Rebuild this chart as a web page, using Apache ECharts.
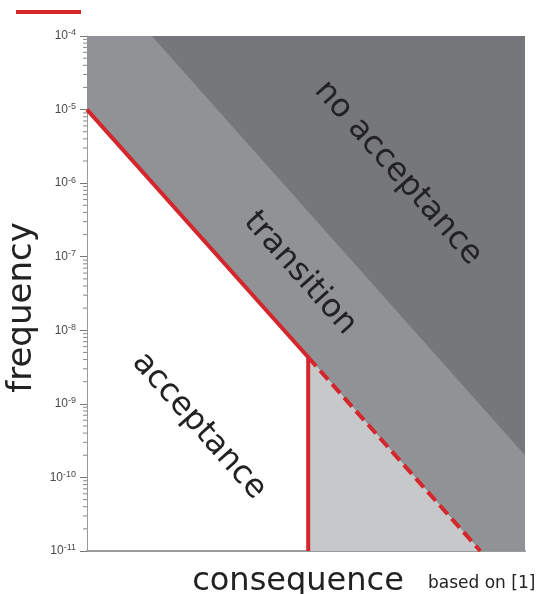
<!DOCTYPE html>
<html><head><meta charset="utf-8">
<script src="https://cdn.jsdelivr.net/npm/echarts@6/dist/echarts.min.js"></script>
<style>html,body{margin:0;padding:0;background:#fff}#c{width:537px;height:594px}</style>
</head><body><div id="c"></div>
<script>
// y-axis ticks (frequency, log scale)
const yTickValues = [1e-11, 1e-10, 1e-9, 1e-8, 1e-7, 1e-6, 1e-5, 1e-4];
const yTickExponents = ['-11', '-10', '-9', '-8', '-7', '-6', '-5', '-4'];
const yMinorMultipliers = [2, 3, 4, 5, 6, 7, 8, 9];
// limit line (solid red): acceptance boundary
const limitX = [0, 50.5, 50.5];
const limitY = [1e-5, 4.3e-9, 1e-11];
// extension of the limit line (dashed red)
const extX = [50.5, 89.8];
const extY = [4.3e-9, 1e-11];
// regions
const transX = [0, 0, 100, 100, 89.8, 50.5];
const transY = [1e-5, 1e-4, 1e-4, 1e-11, 1e-11, 4.3e-9];
const noAccX = [14.8, 100, 100];
const noAccY = [1e-4, 1e-4, 2e-10];
const lightX = [50.5, 89.8, 50.5];
const lightY = [4.3e-9, 1e-11, 1e-11];

// minor log ticks k * 10^n between the major ticks
const minorTicks = [];
yTickValues.slice(0, -1).forEach(function (t) {
  yMinorMultipliers.forEach(function (k) { minorTicks.push([0, k * t]); });
});

function polySeries(name, xs, ys, color) {
  return {
    name: name, type: 'custom', coordinateSystem: 'cartesian2d', silent: true, z: 1,
    data: [[xs[0], ys[0]]],
    renderItem: function (params, api) {
      return {
        type: 'polygon',
        shape: { points: xs.map(function (x, i) { return api.coord([x, ys[i]]); }) },
        style: { fill: color }
      };
    }
  };
}
function pairs(xs, ys) { return xs.map(function (x, i) { return [x, ys[i]]; }); }

const chart = echarts.init(document.getElementById('c'), null, { renderer: 'canvas' });
const rot = -Math.atan(1.123);
const txt = '#222';
const regionFont = '32px "DejaVu Sans"';
chart.setOption({
  animation: false,
  grid: { left: 87, right: 12, top: 36, bottom: 43, containLabel: false, outerBoundsMode: 'none' },
  legend: {
    left: 16, top: 10, padding: 0, itemWidth: 65, itemHeight: 4, selectedMode: false,
    data: [{ name: 'limit', icon: 'rect' }],
    formatter: function () { return ''; }
  },
  xAxis: {
    type: 'value', min: 0, max: 100,
    name: 'consequence', nameLocation: 'middle', nameGap: 15,
    nameTextStyle: { fontFamily: 'DejaVu Sans', fontSize: 32, color: txt, padding: [0, 16, 0, 0] },
    axisLine: { show: true, lineStyle: { color: '#9a9a9a', width: 2 } },
    axisTick: { show: false }, axisLabel: { show: false }, splitLine: { show: false }
  },
  yAxis: {
    type: 'log', logBase: 10, min: 1e-11, max: 1e-4, splitNumber: 7,
    name: 'frequency', nameLocation: 'middle', nameGap: 43,
    nameTextStyle: { fontFamily: 'DejaVu Sans', fontSize: 34, color: txt, padding: [0, 28, 0, 0] },
    axisLine: { show: true, lineStyle: { color: '#999', width: 1 } },
    axisTick: { show: true, length: 7, lineStyle: { color: '#777' } },
    minorTick: { show: false },
    splitLine: { show: false },
    axisLabel: {
      margin: 11,
      formatter: function (v) {
        const lv = Math.log10(v);
        const i = yTickValues.findIndex(function (t) { return Math.abs(Math.log10(t) - lv) < 1e-6; });
        return '{b|10}{e|' + (i >= 0 ? yTickExponents[i] : '') + '}';
      },
      rich: {
        b: { fontFamily: 'Liberation Sans', fontSize: 12, color: '#4a4a4a', lineHeight: 15 },
        e: { fontFamily: 'Liberation Sans', fontSize: 9, color: '#4a4a4a', verticalAlign: 'top', lineHeight: 8 }
      }
    }
  },
  series: [
    polySeries('transition', transX, transY, '#919296'),
    polySeries('no acceptance', noAccX, noAccY, '#76777b'),
    polySeries('light', lightX, lightY, '#c7c8ca'),
    {
      name: 'minorTicks', type: 'custom', coordinateSystem: 'cartesian2d', silent: true, z: 4,
      data: minorTicks,
      renderItem: function (params, api) {
        const p = api.coord([api.value(0), api.value(1)]);
        return {
          type: 'line',
          shape: { x1: p[0] - 4, y1: p[1], x2: p[0], y2: p[1] },
          style: { stroke: '#888', lineWidth: 1 }
        };
      }
    },
    {
      name: 'limit', type: 'line', data: pairs(limitX, limitY), symbol: 'none', z: 3,
      color: '#d4262d',
      lineStyle: { color: '#d4262d', width: 4, join: 'miter' }
    },
    {
      name: 'extension', type: 'line', data: pairs(extX, extY), symbol: 'none', z: 3,
      lineStyle: { color: '#d4262d', width: 4, type: [12, 6] }
    }
  ],
  graphic: [
    { type: 'text', z: 100, x: 398, y: 173, rotation: rot, style: { text: 'no acceptance', font: regionFont, fill: txt, align: 'center', verticalAlign: 'middle' } },
    { type: 'text', z: 100, x: 300, y: 273.5, rotation: rot, style: { text: 'transition', font: regionFont, fill: txt, align: 'center', verticalAlign: 'middle' } },
    { type: 'text', z: 100, x: 199, y: 426, rotation: rot, style: { text: 'acceptance', font: regionFont, fill: txt, align: 'center', verticalAlign: 'middle' } },
    { type: 'text', z: 100, x: 428, y: 584, style: { text: 'based on [1]', font: '17px "DejaVu Sans"', fill: txt, align: 'left', verticalAlign: 'middle' } }
  ]
});
</script>
</body></html>
